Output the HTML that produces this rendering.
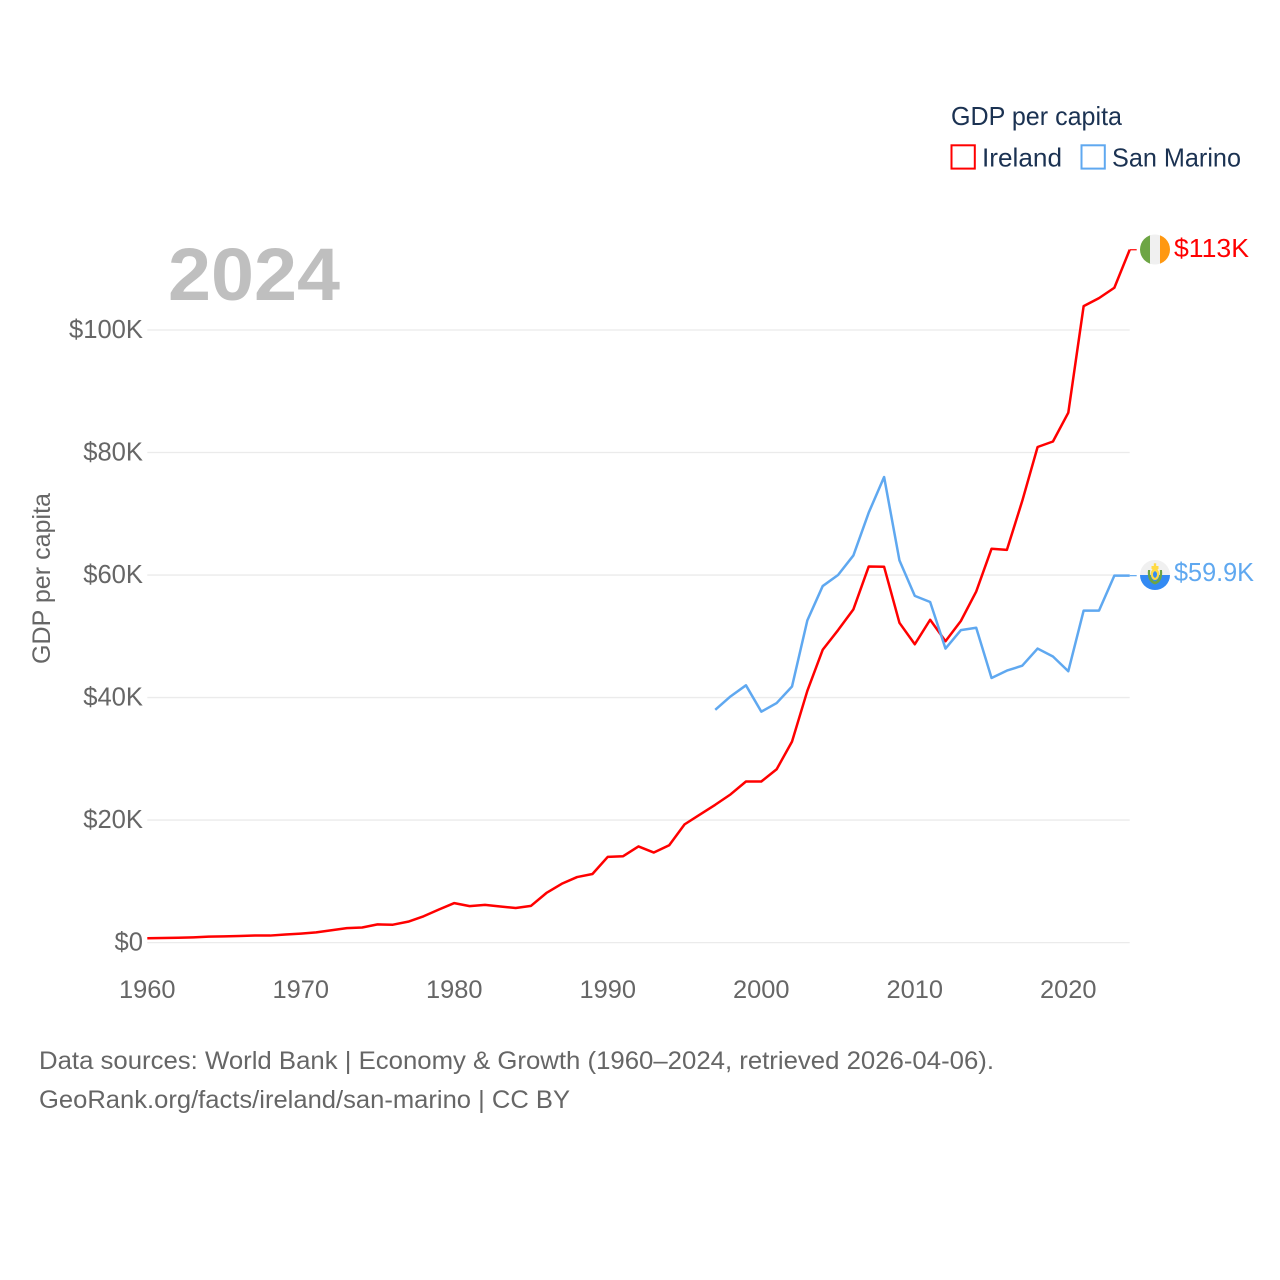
<!DOCTYPE html>
<html lang="en">
<head>
<meta charset="utf-8">
<title>GDP per capita: Ireland and San Marino</title>
<style>
  html, body { margin: 0; padding: 0; background: #fff; }
  svg { display: block; font-family: "Liberation Sans", sans-serif; }
</style>
</head>
<body>
<svg id="chart" xmlns="http://www.w3.org/2000/svg" width="1280" height="1280" viewBox="0 0 1280 1280">
  <rect x="0" y="0" width="1280" height="1280" fill="#ffffff"/>
  <g id="grid"></g>
  <g id="yticks"></g>
  <g id="xticks"></g>
  <text transform="translate(50,578.5) rotate(-90)" text-anchor="middle" font-size="25" fill="#666666" textLength="171" lengthAdjust="spacingAndGlyphs">GDP per capita</text>
  <text x="168" y="300" font-size="74" font-weight="700" fill="#bfbfbf" textLength="172" lengthAdjust="spacingAndGlyphs">2024</text>

  <g id="series"></g>

  <g>
    <text x="951" y="125" font-size="26" fill="#1b3252" textLength="171" lengthAdjust="spacingAndGlyphs">GDP per capita</text>
    <g>
      <rect x="951.5" y="145.3" width="23.3" height="23.3" fill="none" stroke="#ff0000" stroke-width="2"/>
      <text x="982" y="166.500" font-size="26" fill="#1b3252" textLength="80" lengthAdjust="spacingAndGlyphs">Ireland</text>
    </g>
    <g>
      <rect x="1081.5" y="145.3" width="23.3" height="23.3" fill="none" stroke="#5fa8f0" stroke-width="2"/>
      <text x="1112" y="166.500" font-size="26" fill="#1b3252" textLength="129" lengthAdjust="spacingAndGlyphs">San Marino</text>
    </g>
  </g>

  <defs>
    <clipPath id="flag-clip-ie"><circle cx="1155" cy="249.500" r="15"/></clipPath>
    <clipPath id="flag-clip-sm"><circle cx="1155" cy="575" r="15"/></clipPath>
  </defs>
  <g clip-path="url(#flag-clip-ie)">
    <rect x="1140" y="234" width="10.5" height="31" fill="#6da544"/>
    <rect x="1150" y="234" width="10.5" height="31" fill="#f0f0f0"/>
    <rect x="1160" y="234" width="10.5" height="31" fill="#ff9811"/>
  </g>
  <g clip-path="url(#flag-clip-sm)">
    <rect x="1140" y="560" width="30" height="15" fill="#f0f0f0"/>
    <rect x="1140" y="575" width="30" height="15" fill="#338af3"/>
    <path d="M1148 570 C1147 578 1150 583 1155 584.500 C1160 583 1163 578 1162 570 L1159.800 570 C1160.300 576 1158.800 580 1155 581.500 C1151.200 580 1149.700 576 1150.200 570 Z" fill="#6da544"/>
    <ellipse cx="1155" cy="574" rx="4.200" ry="6" fill="#ffda44"/>
    <ellipse cx="1155" cy="574.500" rx="2" ry="3.200" fill="#338af3"/>
    <rect x="1151.500" y="566" width="7" height="3" fill="#ffda44"/>
    <rect x="1153.800" y="563.300" width="2.400" height="3" fill="#ffda44"/>
  </g>
  <text id="label-ie" x="1174" y="257" font-size="26" fill="#ff0000" textLength="75" lengthAdjust="spacingAndGlyphs">$113K</text>
  <text id="label-sm" x="1174" y="581" font-size="26" fill="#5fa8f0" textLength="80" lengthAdjust="spacingAndGlyphs">$59.9K</text>

  <g>
    <text x="39" y="1069" font-size="25" fill="#666666" textLength="955" lengthAdjust="spacingAndGlyphs">Data sources: World Bank | Economy &amp; Growth (1960–2024, retrieved 2026-04-06).</text>
    <text x="39" y="1108" font-size="25" fill="#666666" textLength="531" lengthAdjust="spacingAndGlyphs">GeoRank.org/facts/ireland/san-marino | CC BY</text>
  </g>
</svg>
<script>
var irelandStartYear = 1960;
var irelandValues = [0.72,0.76,0.8,0.86,0.97,1.02,1.07,1.15,1.15,1.32,1.47,1.67,2.02,2.37,2.47,2.97,2.92,3.42,4.3,5.4,6.45,5.95,6.15,5.9,5.65,6.0,8.1,9.6,10.7,11.2,14.0,14.1,15.7,14.7,15.9,19.3,20.9,22.5,24.2,26.3,26.3,28.3,32.8,41.1,47.8,51.0,54.4,61.4,61.35,52.2,48.7,52.7,49.2,52.5,57.3,64.3,64.1,72.1,80.9,81.8,86.5,103.9,105.2,106.9,113.1];
var sanMarinoStartYear = 1997;
var sanMarinoValues = [38.0,40.2,42.0,37.7,39.1,41.8,52.6,58.2,60.0,63.2,70.2,76.0,62.4,56.6,55.6,48.0,51.0,51.4,43.2,44.4,45.2,48.0,46.7,44.3,54.2,54.2,59.9,59.9];
var xTickYears = [1960,1970,1980,1990,2000,2010,2020];
var yTickValues = [0,20,40,60,80,100];
var yTickLabels = ["$0","$20K","$40K","$60K","$80K","$100K"];

var SVG_NS = "http://www.w3.org/2000/svg";
function xScale(year) { return 147.3 + (year - 1960) * 15.35; }
function yScale(value) { return 942.6 - value * 6.126; }
var plotRight = xScale(2024);

var gridGroup = document.getElementById("grid");
var yTickGroup = document.getElementById("yticks");
var xTickGroup = document.getElementById("xticks");
var seriesGroup = document.getElementById("series");

yTickValues.forEach(function (v, i) {
  var line = document.createElementNS(SVG_NS, "line");
  
  
  line.setAttribute("x1", xScale(1960));
  line.setAttribute("x2", plotRight);
  line.setAttribute("y1", yScale(v));
  line.setAttribute("y2", yScale(v));
  line.setAttribute("stroke", "#ebebeb");
  line.setAttribute("stroke-width", "1.3");
  gridGroup.appendChild(line);

  var label = document.createElementNS(SVG_NS, "text");
  
  
  label.setAttribute("x", 143);
  label.setAttribute("y", yScale(v) + 8);
  label.setAttribute("text-anchor", "end");
  label.setAttribute("font-size", "25.6");
  label.setAttribute("fill", "#666666");
  label.textContent = yTickLabels[i];
  yTickGroup.appendChild(label);
});

xTickYears.forEach(function (year) {
  var label = document.createElementNS(SVG_NS, "text");
  
  
  label.setAttribute("x", xScale(year));
  label.setAttribute("y", 998);
  label.setAttribute("text-anchor", "middle");
  label.setAttribute("font-size", "25.4");
  label.setAttribute("fill", "#666666");
  label.textContent = String(year);
  xTickGroup.appendChild(label);
});

function seriesPoints(values, startYear) {
  return values.map(function (v, i) {
    return xScale(startYear + i).toFixed(2) + "," + yScale(v).toFixed(2);
  }).join(" ");
}

var irelandLine = document.createElementNS(SVG_NS, "polyline");


irelandLine.setAttribute("points", seriesPoints(irelandValues, irelandStartYear));
irelandLine.setAttribute("fill", "none");
irelandLine.setAttribute("stroke", "#ff0000");
irelandLine.setAttribute("stroke-width", "2.5");
irelandLine.setAttribute("stroke-linejoin", "round");
seriesGroup.appendChild(irelandLine);

var sanMarinoLine = document.createElementNS(SVG_NS, "polyline");


sanMarinoLine.setAttribute("points", seriesPoints(sanMarinoValues, sanMarinoStartYear));
sanMarinoLine.setAttribute("fill", "none");
sanMarinoLine.setAttribute("stroke", "#5fa8f0");
sanMarinoLine.setAttribute("stroke-width", "2.5");
sanMarinoLine.setAttribute("stroke-linejoin", "round");
seriesGroup.appendChild(sanMarinoLine);

var irelandLast = irelandValues[irelandValues.length - 1];
var irelandConnector = document.createElementNS(SVG_NS, "line");


irelandConnector.setAttribute("x1", plotRight);
irelandConnector.setAttribute("x2", plotRight + 7);
irelandConnector.setAttribute("y1", yScale(irelandLast));
irelandConnector.setAttribute("y2", yScale(irelandLast));
irelandConnector.setAttribute("stroke", "#ff0000");
irelandConnector.setAttribute("stroke-width", "1.2");
seriesGroup.appendChild(irelandConnector);

var sanMarinoLast = sanMarinoValues[sanMarinoValues.length - 1];
var sanMarinoConnector = document.createElementNS(SVG_NS, "line");


sanMarinoConnector.setAttribute("x1", plotRight);
sanMarinoConnector.setAttribute("x2", plotRight + 7);
sanMarinoConnector.setAttribute("y1", yScale(sanMarinoLast));
sanMarinoConnector.setAttribute("y2", yScale(sanMarinoLast));
sanMarinoConnector.setAttribute("stroke", "#5fa8f0");
sanMarinoConnector.setAttribute("stroke-width", "1.2");
seriesGroup.appendChild(sanMarinoConnector);
</script>
</body>
</html>
